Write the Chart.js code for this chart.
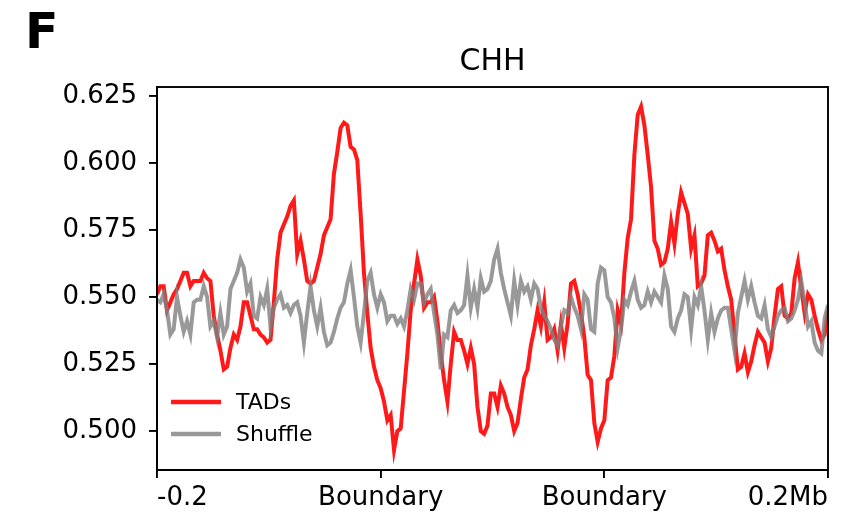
<!DOCTYPE html>
<html>
<head>
<meta charset="utf-8">
<script src="https://cdn.jsdelivr.net/npm/chart.js@4.4.1/dist/chart.umd.min.js"></script>
<style>
  body { margin: 0; background: #fff; }
  #wrap { width: 856px; height: 522px; position: relative; }
</style>
</head>
<body>
<div id="wrap"><canvas id="chhChart"></canvas></div>
<script>
// mean CHH methylation around TAD boundaries, binned (202 bins)
const panelLetter = 'F';
const chartTitle = 'CHH';
const xTickPositions = [0, 67, 134, 201];
const xTickLabels = ['-0.2', 'Boundary', 'Boundary', '0.2Mb'];
const yTicks = [0.500, 0.525, 0.550, 0.575, 0.600, 0.625];

const tads = [
  0.551,0.554,0.554,0.545,0.548,0.551,0.553,0.556,0.559,0.559,
  0.554,0.556,0.556,0.556,0.559,0.557,0.556,0.543,0.536,0.530,
  0.523,0.524,0.531,0.536,0.534,0.539,0.548,0.548,0.543,0.538,
  0.538,0.536,0.535,0.533,0.534,0.548,0.564,0.574,0.577,0.580,
  0.584,0.586,0.566,0.571,0.564,0.556,0.555,0.556,0.561,0.566,
  0.573,0.576,0.579,0.596,0.604,0.613,0.615,0.614,0.606,0.605,
  0.601,0.581,0.559,0.544,0.531,0.524,0.519,0.516,0.511,0.504,
  0.506,0.493,0.500,0.501,0.515,0.529,0.545,0.555,0.564,0.558,
  0.546,0.548,0.548,0.550,0.541,0.529,0.519,0.511,0.525,0.537,
  0.534,0.534,0.530,0.525,0.531,0.525,0.509,0.500,0.499,0.502,
  0.514,0.514,0.509,0.517,0.514,0.509,0.506,0.500,0.503,0.512,
  0.520,0.523,0.532,0.538,0.545,0.539,0.548,0.534,0.535,0.538,
  0.530,0.540,0.531,0.540,0.555,0.556,0.551,0.544,0.535,0.521,
  0.519,0.503,0.496,0.501,0.504,0.519,0.520,0.528,0.545,0.540,
  0.559,0.572,0.579,0.603,0.618,0.621,0.614,0.603,0.591,0.571,
  0.568,0.562,0.563,0.568,0.578,0.570,0.581,0.589,0.585,0.581,
  0.568,0.573,0.554,0.555,0.558,0.573,0.574,0.571,0.567,0.568,
  0.560,0.554,0.549,0.536,0.523,0.524,0.529,0.522,0.526,0.532,
  0.537,0.535,0.533,0.526,0.531,0.543,0.553,0.554,0.543,0.542,
  0.544,0.557,0.563,0.553,0.544,0.551,0.549,0.543,0.538,0.534,
  0.536,0.545
];

const shuffle = [
  0.549,0.548,0.551,0.545,0.536,0.538,0.550,0.543,0.537,0.541,
  0.536,0.548,0.549,0.549,0.554,0.550,0.539,0.541,0.535,0.544,
  0.536,0.539,0.553,0.556,0.559,0.564,0.561,0.552,0.555,0.543,
  0.542,0.550,0.547,0.553,0.539,0.546,0.549,0.551,0.546,0.547,
  0.544,0.547,0.548,0.543,0.533,0.544,0.554,0.545,0.539,0.546,
  0.537,0.532,0.533,0.537,0.542,0.546,0.548,0.555,0.560,0.550,
  0.539,0.533,0.544,0.556,0.559,0.551,0.546,0.551,0.548,0.541,
  0.543,0.543,0.540,0.542,0.539,0.545,0.553,0.549,0.555,0.555,
  0.548,0.551,0.553,0.544,0.536,0.523,0.536,0.535,0.545,0.547,
  0.544,0.545,0.547,0.558,0.546,0.553,0.546,0.557,0.552,0.553,
  0.556,0.564,0.568,0.559,0.553,0.548,0.543,0.556,0.547,0.556,
  0.552,0.554,0.549,0.555,0.553,0.546,0.543,0.541,0.538,0.534,
  0.532,0.539,0.545,0.544,0.550,0.546,0.543,0.538,0.551,0.549,
  0.538,0.537,0.555,0.561,0.560,0.550,0.548,0.542,0.531,0.538,
  0.549,0.547,0.552,0.556,0.549,0.546,0.547,0.552,0.548,0.552,
  0.550,0.548,0.558,0.553,0.539,0.537,0.542,0.545,0.551,0.550,
  0.538,0.550,0.547,0.554,0.545,0.534,0.544,0.537,0.542,0.545,
  0.546,0.546,0.538,0.530,0.544,0.550,0.556,0.549,0.554,0.548,
  0.543,0.542,0.547,0.538,0.535,0.539,0.543,0.545,0.546,0.541,
  0.542,0.545,0.549,0.556,0.548,0.539,0.541,0.533,0.530,0.529,
  0.542,0.547
];

const FONT = 'DejaVu Sans';

// frame, title, panel letter and the in-axes legend (matplotlib style)
const decorations = {
  id: 'decorations',
  afterDatasetsDraw(chart) {
    const ctx = chart.ctx;
    const a = chart.chartArea;
    ctx.save();
    ctx.strokeStyle = '#000';
    ctx.lineWidth = 1.9;
    ctx.strokeRect(a.left, a.top, a.right - a.left, a.bottom - a.top);

    // legend, upper items first
    const sets = [chart.data.datasets[0], chart.data.datasets[1]];
    ctx.font = '22px ' + FONT;
    ctx.textBaseline = 'middle';
    ctx.textAlign = 'left';
    sets.forEach((ds, i) => {
      const y = a.top + 315 + i * 32;
      ctx.strokeStyle = ds.borderColor;
      ctx.lineWidth = 4.4;
      ctx.beginPath();
      ctx.moveTo(a.left + 14, y);
      ctx.lineTo(a.left + 64, y);
      ctx.stroke();
      ctx.fillStyle = '#000';
      ctx.fillText(ds.label, a.left + 79, y + 1);
    });

    ctx.fillStyle = '#000';
    ctx.textAlign = 'center';
    ctx.textBaseline = 'alphabetic';
    ctx.font = '30px ' + FONT;
    ctx.fillText(chartTitle, (a.left + a.right) / 2, a.top - 17);

    ctx.textAlign = 'left';
    ctx.font = 'bold 49px ' + FONT;
    ctx.fillText(panelLetter, 25, 48);
    ctx.restore();
  }
};

const ctx = document.getElementById('chhChart');
new Chart(ctx, {
  type: 'line',
  data: {
    datasets: [
      {
        label: 'TADs',
        data: tads.map((v, i) => ({ x: i, y: v })),
        borderColor: 'rgba(255, 0, 0, 0.9)',
        borderWidth: 4,
        pointRadius: 0,
        tension: 0,
        order: 2
      },
      {
        label: 'Shuffle',
        data: shuffle.map((v, i) => ({ x: i, y: v })),
        borderColor: 'rgba(128, 128, 128, 0.8)',
        borderWidth: 4,
        pointRadius: 0,
        tension: 0,
        order: 1
      }
    ]
  },
  options: {
    responsive: true,
    maintainAspectRatio: false,
    animation: false,
    layout: { padding: { top: 87, right: 28, left: 0, bottom: 0 } },
    plugins: {
      legend: { display: false },
      tooltip: { enabled: false }
    },
    scales: {
      x: {
        type: 'linear',
        min: 0,
        max: 201,
        afterBuildTicks: (axis) => { axis.ticks = xTickPositions.map(v => ({ value: v })); },
        afterFit: (axis) => { axis.height = 52; },
        border: { display: true, color: '#000', width: 1.9 },
        grid: { drawOnChartArea: false, drawTicks: true, tickLength: 8, color: '#000', lineWidth: 1.9 },
        ticks: {
          align: 'inner',
          maxRotation: 0,
          autoSkip: false,
          padding: 5,
          color: '#000',
          font: { family: FONT, size: 26 },
          callback: (value, index) => xTickLabels[index]
        }
      },
      y: {
        min: 0.4855,
        max: 0.6283,
        afterBuildTicks: (axis) => { axis.ticks = yTicks.map(v => ({ value: v })); },
        afterFit: (axis) => { axis.width = 157; },
        border: { display: true, color: '#000', width: 1.9 },
        grid: { drawOnChartArea: false, drawTicks: true, tickLength: 8, color: '#000', lineWidth: 1.9 },
        ticks: {
          padding: 12,
          color: '#000',
          font: { family: FONT, size: 26 },
          callback: (value) => value.toFixed(3)
        }
      }
    }
  },
  plugins: [decorations]
});
</script>
</body>
</html>
